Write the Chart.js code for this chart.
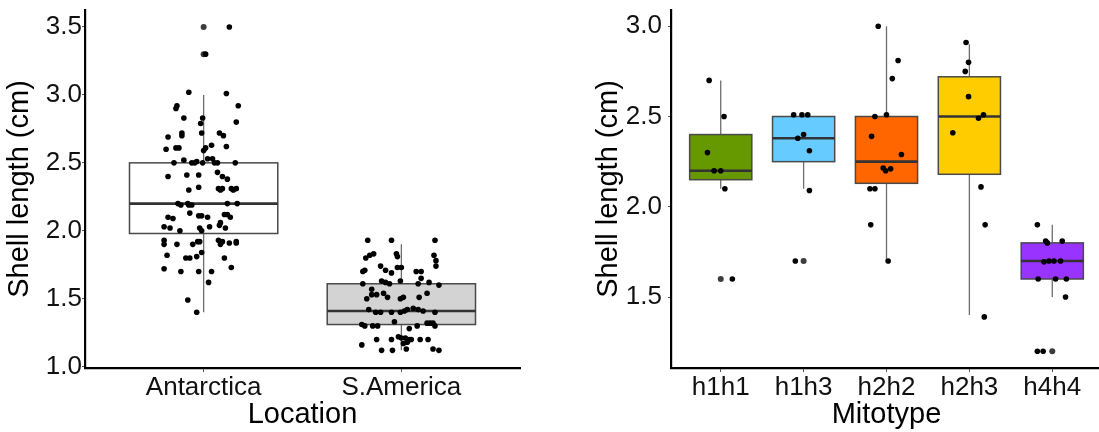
<!DOCTYPE html>
<html>
<head>
<meta charset="utf-8">
<script src="https://cdn.jsdelivr.net/npm/chart.js@4.4.1/dist/chart.umd.min.js"></script>
<style>
  html, body { margin: 0; padding: 0; background: #fff; overflow: hidden; width: 1099px; height: 432px; }
  #left { position: absolute; left: 0; top: 0; }
  #right { position: absolute; left: 549px; top: 0; }
</style>
</head>
<body>
<canvas id="left" width="549" height="432"></canvas>
<canvas id="right" width="557" height="432"></canvas>
<script>
// left panel: shell length by location
const locations = ['Antarctica', 'S.America'];
const locQ1 = [1.98, 1.31];
const locMedian = [2.2, 1.41];
const locQ3 = [2.5, 1.61];
const locLow = [1.4, 1.12];
const locHigh = [3.0, 1.9];
const locFill = ['#FFFFFF', '#D3D3D3'];
const locOutliers = [[3.5, 3.3], []];
const locValues = [
    [3.5, 3.3, 3.02, 3.01, 2.92, 2.9, 2.92, 2.83, 2.83, 2.8, 2.79, 2.72, 2.72, 2.7, 2.69, 2.72, 2.7, 2.62, 2.63, 2.61,
     2.61, 2.6, 2.61, 2.59, 2.5, 2.52, 2.5, 2.5, 2.51, 2.5, 2.53, 2.53, 2.5, 2.5, 2.5, 2.4, 2.41, 2.41, 2.43, 2.4,
     2.38, 2.32, 2.3, 2.31, 2.3, 2.31, 2.31, 2.3, 2.31, 2.2, 2.19, 2.2, 2.19, 2.19, 2.2, 2.2, 2.1, 2.09, 2.13, 2.11,
     2.11, 2.1, 2.12, 2.12, 2.1, 2.06, 2.03, 2.02, 2.0, 2.02, 2.0, 2.03, 2.04, 2.02, 1.93, 1.9, 1.9, 1.9, 1.92, 1.92,
     1.93, 1.9, 1.92, 1.91, 1.92, 1.91, 1.82, 1.8, 1.8, 1.81, 1.84, 1.8, 1.72, 1.7, 1.7, 1.7, 1.73, 1.62, 1.49, 1.4],
    [1.93, 1.93, 1.93, 1.8, 1.82, 1.83, 1.83, 1.81, 1.82, 1.78, 1.74, 1.7, 1.71, 1.74, 1.71, 1.69, 1.73, 1.73, 1.7, 1.7,
     1.61, 1.63, 1.62, 1.61, 1.63, 1.61, 1.65, 1.62, 1.6, 1.57, 1.5, 1.53, 1.53, 1.54, 1.51, 1.5, 1.51, 1.51, 1.54, 1.42,
     1.4, 1.4, 1.4, 1.4, 1.41, 1.42, 1.43, 1.42, 1.41, 1.4, 1.31, 1.3, 1.3, 1.3, 1.33, 1.28, 1.3, 1.32, 1.32, 1.32,
     1.3, 1.22, 1.21, 1.21, 1.2, 1.2, 1.2, 1.2, 1.2, 1.2, 1.17, 1.18, 1.16, 1.13, 1.12, 1.12, 1.13, 1.12]
];
const locJitter = [
    [0.13, 0.01, -0.075, 0.115, -0.135, -0.14, 0.175, -0.1, -0.005, 0.165, -0.015, -0.01, -0.11, -0.11, -0.18, 0.08, 0.1, 0.115, 0.04, -0.14,
     -0.125, -0.19, 0.01, 0.0, -0.15, -0.1, -0.06, -0.045, -0.035, -0.005, 0.02, 0.045, 0.055, 0.07, 0.16, -0.18, -0.085, -0.025, 0.07, 0.095,
     0.12, -0.025, -0.075, 0.075, 0.085, 0.095, 0.14, 0.15, 0.165, -0.13, -0.115, -0.08, -0.075, -0.06, 0.12, 0.17, -0.18, -0.155, -0.07, -0.025,
     -0.01, 0.02, 0.105, 0.12, 0.135, 0.085, -0.2, -0.17, -0.12, -0.02, -0.01, 0.03, 0.08, 0.11, -0.2, -0.2, -0.135, -0.055, -0.03, -0.02,
     0.075, 0.085, 0.095, 0.13, 0.165, 0.165, -0.185, -0.09, -0.07, -0.035, -0.01, 0.105, -0.2, -0.115, -0.025, 0.04, 0.14, 0.025, -0.08, -0.035],
    [-0.17, -0.05, 0.17, -0.18, -0.16, -0.14, -0.025, -0.02, 0.165, 0.175, 0.175, -0.195, -0.185, -0.105, -0.08, -0.05, -0.02, 0.0, 0.075, 0.1,
     -0.195, -0.1, -0.08, -0.06, -0.005, 0.085, 0.1, 0.14, 0.19, -0.15, -0.175, -0.15, -0.125, -0.09, -0.07, -0.005, 0.01, 0.09, 0.13, -0.165,
     -0.13, -0.105, -0.05, -0.005, 0.015, 0.03, 0.06, 0.085, 0.11, 0.17, -0.2, -0.185, -0.145, -0.12, -0.035, 0.04, 0.08, 0.13, 0.145, 0.16,
     0.17, -0.015, 0.0, 0.02, 0.04, 0.05, -0.125, -0.05, 0.095, 0.135, 0.01, 0.03, -0.2, 0.025, -0.1, -0.045, 0.16, 0.19]
];
const leftYTicks = [1.0, 1.5, 2.0, 2.5, 3.0, 3.5];

// right panel: shell length by mitotype
const mitotypes = ['h1h1', 'h1h3', 'h2h2', 'h2h3', 'h4h4'];
const mitoQ1 = [2.15, 2.25, 2.13, 2.18, 1.6];
const mitoMedian = [2.2, 2.38, 2.25, 2.5, 1.7];
const mitoQ3 = [2.4, 2.5, 2.5, 2.72, 1.8];
const mitoLow = [2.1, 2.1, 1.7, 1.4, 1.5];
const mitoHigh = [2.7, 2.5, 3.0, 2.9, 1.9];
const mitoFill = ['#669900', '#66CCFF', '#FF6600', '#FFCC00', '#9933FF'];
const mitoOutliers = [[1.6], [1.7], [], [], [1.2]];
const mitoValues = [
    [2.7, 2.5, 2.3, 2.2, 2.2, 2.1, 1.6],
    [2.51, 2.51, 2.51, 2.4, 2.38, 2.31, 2.09, 1.7],
    [3.0, 2.81, 2.71, 2.5, 2.51, 2.39, 2.29, 2.215, 2.2, 2.21, 2.1, 2.1, 1.9, 1.7],
    [2.91, 2.8, 2.75, 2.61, 2.51, 2.49, 2.41, 2.11, 1.9, 1.39],
    [1.9, 1.81, 1.8, 1.81, 1.695, 1.7, 1.7, 1.7, 1.6, 1.6, 1.6, 1.5, 1.2, 1.2]
];
const mitoJitter = [
    [-0.14, 0.04, -0.16, -0.08, 0.0, 0.05, 0.14],
    [-0.12, -0.02, 0.05, 0.0, -0.07, 0.07, 0.07, -0.1],
    [-0.1, 0.14, 0.07, -0.14, 0.0, -0.18, 0.18, -0.04, -0.01, 0.05, -0.2, -0.14, -0.19, 0.02],
    [-0.04, -0.01, -0.05, -0.01, 0.17, 0.11, -0.2, 0.14, 0.19, 0.18],
    [-0.18, -0.08, -0.06, 0.12, -0.1, -0.04, 0.02, 0.1, -0.17, 0.04, 0.17, 0.16, -0.18, -0.11]
];
const rightYTicks = [1.5, 2.0, 2.5, 3.0];

const fontFamily = "'Liberation Sans', Arial, Helvetica, sans-serif";

function boxPlugin(q1, med, q3, lo, hi, fill) {
    return {
        id: 'boxes',
        beforeDatasetsDraw(chart) {
            const ctx = chart.ctx;
            const xs = chart.scales.x;
            const ys = chart.scales.y;
            ctx.save();
            for (let i = 0; i < q1.length; i++) {
                const cx = xs.getPixelForValue(i + 1);
                const half = xs.getPixelForValue(i + 1.375) - cx;
                // whiskers
                ctx.strokeStyle = '#6e6e6e';
                ctx.lineWidth = 1.3;
                ctx.beginPath();
                ctx.moveTo(cx, ys.getPixelForValue(hi[i]));
                ctx.lineTo(cx, ys.getPixelForValue(q3[i]));
                ctx.moveTo(cx, ys.getPixelForValue(q1[i]));
                ctx.lineTo(cx, ys.getPixelForValue(lo[i]));
                ctx.stroke();
                // box
                const top = ys.getPixelForValue(q3[i]);
                const bot = ys.getPixelForValue(q1[i]);
                ctx.fillStyle = fill[i];
                ctx.fillRect(cx - half, top, half * 2, bot - top);
                ctx.strokeStyle = '#4a4a4a';
                ctx.lineWidth = 1.5;
                ctx.strokeRect(cx - half, top, half * 2, bot - top);
                // median
                const my = ys.getPixelForValue(med[i]);
                ctx.strokeStyle = '#333333';
                ctx.lineWidth = 2.6;
                ctx.beginPath();
                ctx.moveTo(cx - half, my);
                ctx.lineTo(cx + half, my);
                ctx.stroke();
            }
            ctx.restore();
        }
    };
}

function pointsFrom(values, jitter) {
    const pts = [];
    values.forEach((arr, i) => {
        arr.forEach((v, j) => pts.push({ x: i + 1 + jitter[i][j], y: v }));
    });
    return pts;
}

function outliersFrom(outs) {
    const pts = [];
    outs.forEach((arr, i) => arr.forEach(v => pts.push({ x: i + 1, y: v })));
    return pts;
}

function makeChart(id, cats, values, jitter, outs, stats, yMin, yMax, yTicks, yWidth, yPad, padding, xMax) {
    new Chart(document.getElementById(id).getContext('2d'), {
        type: 'scatter',
        data: {
            datasets: [
                {
                    data: pointsFrom(values, jitter),
                    backgroundColor: '#000000',
                    borderWidth: 0,
                    pointRadius: 2.8
                },
                {
                    data: outliersFrom(outs),
                    backgroundColor: '#3c3c3c',
                    borderWidth: 0,
                    pointRadius: 3
                }
            ]
        },
        options: {
            responsive: false,
            animation: false,
            layout: { padding: padding },
            plugins: { legend: { display: false }, tooltip: { enabled: false } },
            scales: {
                x: {
                    type: 'linear',
                    min: 0.4,
                    max: xMax,
                    afterBuildTicks: s => { s.ticks = cats.map((c, i) => ({ value: i + 1 })); },
                    afterFit: s => { s.height = 64; s.paddingLeft = 0; s.paddingRight = 0; },
                    grid: { drawOnChartArea: false, drawTicks: true, tickLength: 4, color: '#555', lineWidth: 1 },
                    border: { display: true, color: '#000', width: 2.2 },
                    ticks: {
                        padding: 0,
                        color: '#111',
                        maxRotation: 0,
                        font: { family: fontFamily, size: 26 },
                        callback: v => cats[Math.round(v) - 1]
                    },
                    title: {
                        display: true,
                        text: id === 'left' ? 'Location' : 'Mitotype',
                        color: '#000',
                        padding: { top: 0, bottom: 0 },
                        font: { family: fontFamily, size: 29 }
                    }
                },
                y: {
                    min: yMin,
                    max: yMax,
                    afterBuildTicks: s => { s.ticks = yTicks.map(v => ({ value: v })); },
                    afterFit: s => { s.width = yWidth; s.paddingTop = 0; s.paddingBottom = 0; },
                    grid: { drawOnChartArea: false, drawTicks: true, tickLength: 3, color: '#555', lineWidth: 1 },
                    border: { display: true, color: '#000', width: 2.2 },
                    ticks: {
                        padding: yPad,
                        color: '#111',
                        font: { family: fontFamily, size: 26 },
                        callback: v => Number(v).toFixed(1)
                    },
                    title: {
                        display: true,
                        text: 'Shell length (cm)',
                        color: '#000',
                        padding: { top: 3, bottom: 3 },
                        font: { family: fontFamily, size: 29 }
                    }
                }
            }
        },
        plugins: [boxPlugin(stats[0], stats[1], stats[2], stats[3], stats[4], stats[5])]
    });
}

makeChart('left', locations, locValues, locJitter, locOutliers,
    [locQ1, locMedian, locQ3, locLow, locHigh, locFill],
    0.99, 3.625, leftYTicks, 85, 0, { top: 10, right: 29, left: 0, bottom: 0 }, 2.6);

makeChart('right', mitotypes, mitoValues, mitoJitter, mitoOutliers,
    [mitoQ1, mitoMedian, mitoQ3, mitoLow, mitoHigh, mitoFill],
    1.107, 3.09, rightYTicks, 82, 6, { top: 10, right: 0, left: 40, bottom: 0 }, 5.6);
</script>
</body>
</html>
